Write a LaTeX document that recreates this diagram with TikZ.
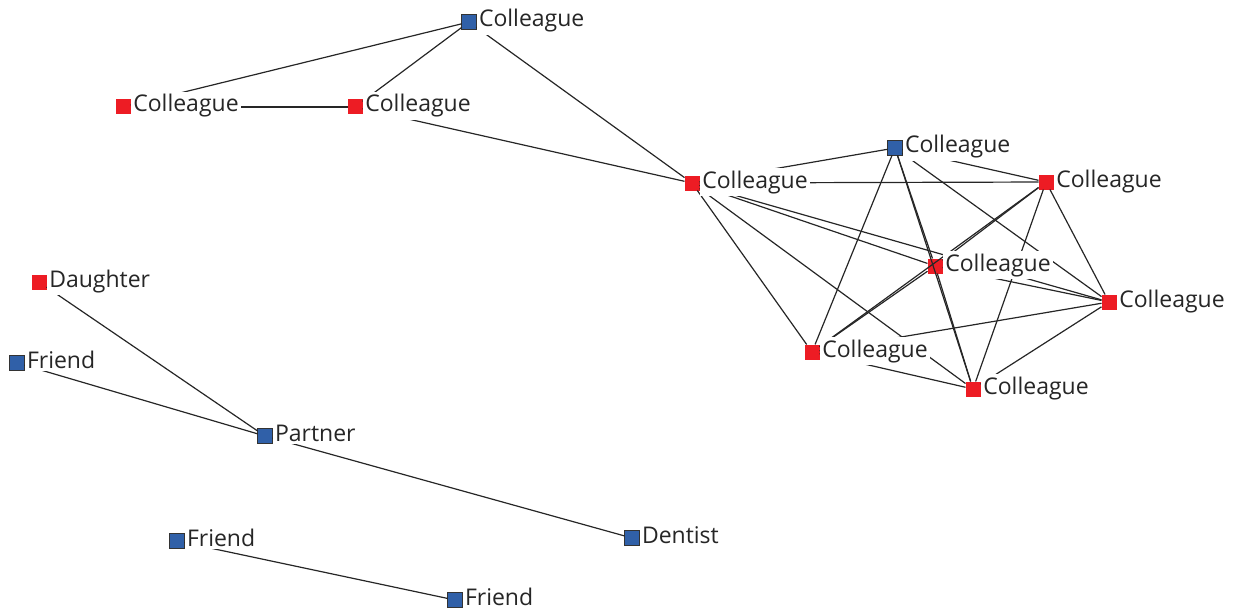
\documentclass[tikz,border=0pt]{standalone}
\usepackage{fontspec}
\setmainfont{Open Sans}
\usetikzlibrary{shapes}
\definecolor{vred}{HTML}{ED1C24}
\definecolor{vblue}{HTML}{3060A8}
\tikzstyle{edge}=[line width=0.6pt, black!85]
\tikzstyle{redV}=[rectangle, fill=vred, minimum size=7.5pt, inner sep=0pt, outer sep=0pt]
\tikzstyle{blueV}=[rectangle, fill=vblue, draw=black!80, minimum size=7.2pt, line width=0.5pt, inner sep=0pt, outer sep=0pt]
\tikzstyle{tag}=[anchor=base west, yshift=-2.5pt, fill=white, inner sep=1.2pt, font=\fontsize{11.5}{12}\selectfont, text=black!85]

\begin{document}
\begin{tikzpicture}[x=0.5pt, y=-0.5pt]
    \useasboundingbox (0,0) rectangle (1236,610);
    %%%%%  Colegas  %%%%%
    \node (0) [blueV] at (469,22){};
    \node (1) [redV]  at (123,107){};
    \node (2) [redV]  at (355,107){};
    \node (3) [redV]  at (692,183){};
    \node (4) [blueV] at (895,148){};
    \node (5) [redV]  at (1046,182){};
    \node (6) [redV]  at (935,266){};
    \node (7) [redV]  at (1109,302){};
    \node (8) [redV]  at (812,352){};
    \node (9) [redV]  at (973,389){};

    %%%%%  Familia y amigos  %%%%%
    \node (10) [redV]  at (39,282){};
    \node (11) [blueV] at (17,363){};
    \node (12) [blueV] at (265,436){};
    \node (13) [blueV] at (632,538){};
    \node (14) [blueV] at (177,541){};
    \node (15) [blueV] at (455,600){};

    %%%%%  Aristas  %%%%%
    \draw [edge] (0) to (1);
    \draw [edge] (0) to (2);
    \draw [edge] (1) to (2);
    \draw [edge] (0) to (3);
    \draw [edge] (2) to (3);
    \draw [edge] (3) to (4);
    \draw [edge] (3) to (5);
    \draw [edge] (3) to (6);
    \draw [edge] (3) to (7);
    \draw [edge] (3) to (8);
    \draw [edge] (3) to (9);
    \draw [edge] (4) to (5);
    \draw [edge] (4) to (6);
    \draw [edge] (4) to (7);
    \draw [edge] (4) to (8);
    \draw [edge] (4) to (9);
    \draw [edge] (5) to (6);
    \draw [edge] (5) to (7);
    \draw [edge] (5) to (8);
    \draw [edge] (5) to (9);
    \draw [edge] (6) to (7);
    \draw [edge] (6) to (8);
    \draw [edge] (6) to (9);
    \draw [edge] (7) to (8);
    \draw [edge] (7) to (9);
    \draw [edge] (8) to (9);
    \draw [edge] (10) to (12);
    \draw [edge] (11) to (12);
    \draw [edge] (12) to (13);
    \draw [edge] (14) to (15);

    %%%%%  Etiquetas  %%%%%
    \node (T0) [tag] at (0.east) {Colleague};
    \node (T1) [tag] at (1.east) {Colleague};
    \node (T2) [tag] at (2.east) {Colleague};
    \node (T3) [tag] at (3.east) {Colleague};
    \node (T4) [tag] at (4.east) {Colleague};
    \node (T5) [tag] at (5.east) {Colleague};
    \node (T6) [tag] at (6.east) {Colleague};
    \node (T7) [tag] at (7.east) {Colleague};
    \node (T8) [tag] at (8.east) {Colleague};
    \node (T9) [tag] at (9.east) {Colleague};
    \node (T10) [tag] at (10.east) {Daughter};
    \node (T11) [tag] at (11.east) {Friend};
    \node (T12) [tag] at (12.east) {Partner};
    \node (T13) [tag] at (13.east) {Dentist};
    \node (T14) [tag] at (14.east) {Friend};
    \node (T15) [tag] at (15.east) {Friend};
\end{tikzpicture}
\end{document}
